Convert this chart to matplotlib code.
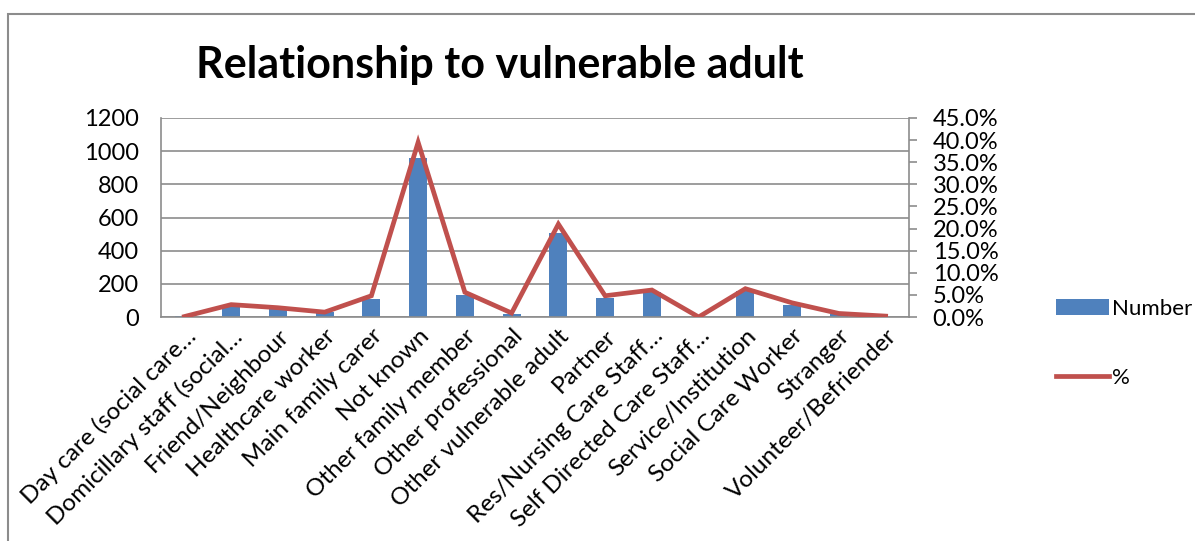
import numpy as np
import matplotlib
matplotlib.use("Agg")
import matplotlib.pyplot as plt
from matplotlib.patches import Rectangle
from matplotlib.ticker import FuncFormatter, MultipleLocator

categories = [
    "Day care (social care…", "Domicillary staff (social…", "Friend/Neighbour",
    "Healthcare worker", "Main family carer", "Not known", "Other family member",
    "Other professional", "Other vulnerable adult", "Partner",
    "Res/Nursing Care Staff…", "Self Directed Care Staff…", "Service/Institution",
    "Social Care Worker", "Stranger", "Volunteer/Befriender",
]
numbers = [4, 70, 55, 30, 111, 961, 135, 20, 506, 112, 152, 0, 155, 75, 16, 3]
percent = [0.1, 2.8, 2.1, 1.1, 4.8, 39.5, 5.6, 0.9, 21.0, 4.8, 6.1, 0.0, 6.4, 3.2, 0.8, 0.2]

plt.rcParams['font.family'] = ['Lato', 'DejaVu Sans']

bar_col = '#4F81BD'
line_col = '#C0504D'
grid_col = '#8C8C8C'

fig = plt.figure(figsize=(11.95, 5.41), dpi=100)
ax = fig.add_axes([161/1195, 1-317/541, (909-161)/1195, (317-118)/541])

x = np.arange(len(categories))
ax.bar(x, numbers, width=0.39, color=bar_col, zorder=2, label='Number')
ax.set_ylim(0, 1200)
ax.set_xlim(-0.5, len(categories)-0.5)
ax.yaxis.set_major_locator(MultipleLocator(200))
ax.grid(axis='y', color=grid_col, linewidth=1.2, zorder=0)
ax.set_axisbelow(True)
for s in ['top', 'right']:
    ax.spines[s].set_visible(False)
for s in ['left', 'bottom']:
    ax.spines[s].set_color(grid_col)
    ax.spines[s].set_linewidth(1.2)
ax.tick_params(axis='y', length=0, pad=16, labelsize=17)
ax.tick_params(axis='x', length=0, pad=6, labelsize=17.5)
ax.set_xticks(x)
ax.set_xticklabels(categories, rotation=45, ha='right', rotation_mode='anchor')

ax2 = ax.twinx()
ax2.plot(x, percent, color=line_col, linewidth=3.4, label='%', zorder=3,
         solid_joinstyle='miter')
ax2.set_ylim(0, 45)
ax2.yaxis.set_major_locator(MultipleLocator(5))
ax2.yaxis.set_major_formatter(FuncFormatter(lambda v, p: f"{v:.1f}%"))
ax2.tick_params(axis='y', length=6, color=grid_col, width=1.2, pad=11, labelsize=17)
for s in ['top', 'left', 'bottom']:
    ax2.spines[s].set_visible(False)
ax2.spines['right'].set_color(grid_col)
ax2.spines['right'].set_linewidth(1.2)

fig.text(500/1195, 1-65/541, "Relationship to vulnerable adult", ha='center',
         va='center', fontsize=31, fontweight='bold')

# legend
h1, l1 = ax.get_legend_handles_labels()
h2, l2 = ax2.get_legend_handles_labels()
fig.legend(h1 + h2, l1 + l2, loc='upper left', bbox_to_anchor=(1036/1195, 1-279/541),
           frameon=False, fontsize=16, handlelength=2.4, labelspacing=2.2,
           handletextpad=0.1)

# outer chart border
fig.patches.append(Rectangle((8/1195, -0.1), 1.2, 1-14/541+0.1, transform=fig.transFigure,
                             fill=False, edgecolor='#8C8C8C', linewidth=1.5))

fig.savefig('out.png', dpi=100)
